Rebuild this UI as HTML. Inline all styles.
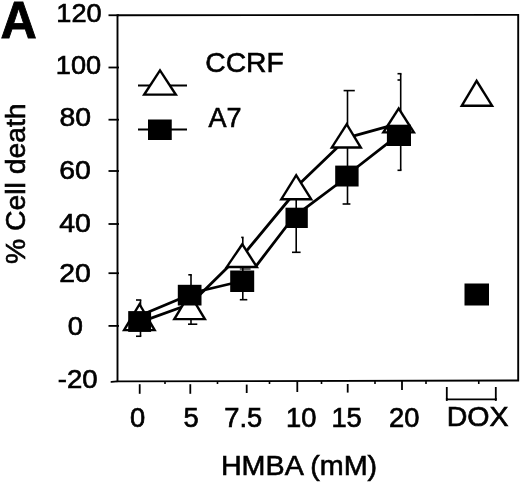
<!DOCTYPE html>
<html><head><meta charset="utf-8"><title>Figure A</title>
<style>html,body{margin:0;padding:0;background:#fff;}svg{display:block;}</style>
</head><body>
<svg width="520" height="483" viewBox="0 0 520 483" font-family="'Liberation Sans', sans-serif" fill="#000">
<polygon points="117.5,15.2 518.2,14.9 518.2,380.5 117.5,381.4" fill="none" stroke="#000" stroke-width="1.9" stroke-linejoin="miter"/>
<line x1="108.50" y1="15.25" x2="119.00" y2="15.25" stroke="#000" stroke-width="1.80" stroke-linecap="butt"/>
<line x1="108.50" y1="67.50" x2="119.00" y2="67.50" stroke="#000" stroke-width="1.80" stroke-linecap="butt"/>
<line x1="108.50" y1="119.70" x2="119.00" y2="119.70" stroke="#000" stroke-width="1.80" stroke-linecap="butt"/>
<line x1="108.50" y1="171.00" x2="119.00" y2="171.00" stroke="#000" stroke-width="1.80" stroke-linecap="butt"/>
<line x1="108.50" y1="224.00" x2="119.00" y2="224.00" stroke="#000" stroke-width="1.80" stroke-linecap="butt"/>
<line x1="108.50" y1="273.20" x2="119.00" y2="273.20" stroke="#000" stroke-width="1.80" stroke-linecap="butt"/>
<line x1="108.50" y1="325.90" x2="119.00" y2="325.90" stroke="#000" stroke-width="1.80" stroke-linecap="butt"/>
<line x1="111.50" y1="381.90" x2="117.00" y2="381.40" stroke="#000" stroke-width="1.90" stroke-linecap="round"/>
<line x1="139.70" y1="384.20" x2="139.70" y2="393.80" stroke="#000" stroke-width="1.80" stroke-linecap="butt"/>
<line x1="190.30" y1="384.20" x2="190.30" y2="393.80" stroke="#000" stroke-width="1.80" stroke-linecap="butt"/>
<line x1="246.70" y1="384.60" x2="246.70" y2="393.00" stroke="#000" stroke-width="1.80" stroke-linecap="butt"/>
<line x1="297.30" y1="381.30" x2="297.30" y2="392.00" stroke="#000" stroke-width="1.80" stroke-linecap="butt"/>
<line x1="347.70" y1="384.00" x2="347.70" y2="392.60" stroke="#000" stroke-width="1.80" stroke-linecap="butt"/>
<line x1="402.00" y1="381.00" x2="402.00" y2="390.00" stroke="#000" stroke-width="1.80" stroke-linecap="butt"/>
<line x1="165.00" y1="381.00" x2="165.00" y2="384.00" stroke="#000" stroke-width="1.60" stroke-linecap="butt"/>
<line x1="217.50" y1="381.00" x2="217.50" y2="384.00" stroke="#000" stroke-width="1.60" stroke-linecap="butt"/>
<line x1="269.50" y1="381.00" x2="269.50" y2="384.00" stroke="#000" stroke-width="1.60" stroke-linecap="butt"/>
<line x1="321.50" y1="381.00" x2="321.50" y2="384.00" stroke="#000" stroke-width="1.60" stroke-linecap="butt"/>
<line x1="375.00" y1="381.00" x2="375.00" y2="384.00" stroke="#000" stroke-width="1.60" stroke-linecap="butt"/>
<line x1="426.00" y1="381.00" x2="426.00" y2="384.00" stroke="#000" stroke-width="1.60" stroke-linecap="butt"/>
<line x1="478.75" y1="381.00" x2="478.75" y2="384.00" stroke="#000" stroke-width="1.60" stroke-linecap="butt"/>
<polyline points="446.8,387 446.8,399.3 495.8,399.3 495.8,387" fill="none" stroke="#000" stroke-width="1.8"/>
<line x1="446.80" y1="398.00" x2="446.80" y2="400.90" stroke="#000" stroke-width="1.80" stroke-linecap="butt"/>
<line x1="495.80" y1="398.00" x2="495.80" y2="400.90" stroke="#000" stroke-width="1.80" stroke-linecap="butt"/>
<line x1="139.50" y1="322.40" x2="189.60" y2="304.20" stroke="#000" stroke-width="2.80" stroke-linecap="round"/>
<line x1="189.60" y1="304.80" x2="242.00" y2="253.20" stroke="#000" stroke-width="2.80" stroke-linecap="round"/>
<line x1="242.40" y1="256.00" x2="296.60" y2="190.50" stroke="#000" stroke-width="2.80" stroke-linecap="round"/>
<line x1="296.20" y1="187.00" x2="346.70" y2="138.50" stroke="#000" stroke-width="2.80" stroke-linecap="round"/>
<line x1="346.70" y1="137.80" x2="399.00" y2="123.30" stroke="#000" stroke-width="2.80" stroke-linecap="round"/>
<line x1="139.50" y1="315.70" x2="189.60" y2="294.80" stroke="#000" stroke-width="2.80" stroke-linecap="round"/>
<line x1="189.60" y1="293.50" x2="242.20" y2="281.00" stroke="#000" stroke-width="2.80" stroke-linecap="round"/>
<line x1="257.00" y1="264.80" x2="296.70" y2="213.00" stroke="#000" stroke-width="2.80" stroke-linecap="round"/>
<line x1="296.70" y1="214.70" x2="347.00" y2="177.00" stroke="#000" stroke-width="2.80" stroke-linecap="round"/>
<line x1="347.00" y1="175.00" x2="398.80" y2="134.60" stroke="#000" stroke-width="2.80" stroke-linecap="round"/>
<line x1="138.00" y1="85.50" x2="187.00" y2="85.50" stroke="#000" stroke-width="1.90" stroke-linecap="butt"/>
<line x1="138.00" y1="129.50" x2="187.00" y2="129.50" stroke="#000" stroke-width="1.90" stroke-linecap="butt"/>
<line x1="140.50" y1="300.00" x2="140.50" y2="336.25" stroke="#000" stroke-width="1.60" stroke-linecap="butt"/><line x1="136.00" y1="300.00" x2="141.30" y2="300.00" stroke="#000" stroke-width="1.60" stroke-linecap="butt"/><line x1="136.00" y1="336.25" x2="141.30" y2="336.25" stroke="#000" stroke-width="1.60" stroke-linecap="butt"/>
<line x1="191.00" y1="274.80" x2="191.00" y2="324.20" stroke="#000" stroke-width="1.60" stroke-linecap="butt"/><line x1="188.30" y1="274.80" x2="191.80" y2="274.80" stroke="#000" stroke-width="1.60" stroke-linecap="butt"/><line x1="188.00" y1="324.20" x2="197.30" y2="324.20" stroke="#000" stroke-width="1.60" stroke-linecap="butt"/>
<line x1="242.80" y1="237.40" x2="242.80" y2="299.70" stroke="#000" stroke-width="1.60" stroke-linecap="butt"/><line x1="241.20" y1="237.40" x2="243.60" y2="237.40" stroke="#000" stroke-width="1.60" stroke-linecap="butt"/><line x1="239.80" y1="299.70" x2="247.30" y2="299.70" stroke="#000" stroke-width="1.60" stroke-linecap="butt"/>
<line x1="239.80" y1="269.00" x2="250.60" y2="269.00" stroke="#000" stroke-width="1.20" stroke-linecap="butt"/>
<line x1="296.20" y1="180.00" x2="296.20" y2="252.30" stroke="#000" stroke-width="1.60" stroke-linecap="butt"/><line x1="292.00" y1="252.30" x2="300.60" y2="252.30" stroke="#000" stroke-width="1.60" stroke-linecap="butt"/>
<line x1="347.50" y1="90.60" x2="347.50" y2="204.00" stroke="#000" stroke-width="1.60" stroke-linecap="butt"/><line x1="343.60" y1="90.60" x2="354.80" y2="90.60" stroke="#000" stroke-width="1.60" stroke-linecap="butt"/><line x1="342.60" y1="204.00" x2="350.40" y2="204.00" stroke="#000" stroke-width="1.60" stroke-linecap="butt"/>
<line x1="400.70" y1="73.70" x2="400.70" y2="170.30" stroke="#000" stroke-width="1.60" stroke-linecap="butt"/><line x1="397.50" y1="73.70" x2="401.50" y2="73.70" stroke="#000" stroke-width="1.60" stroke-linecap="butt"/><line x1="397.50" y1="170.30" x2="401.50" y2="170.30" stroke="#000" stroke-width="1.60" stroke-linecap="butt"/>
<line x1="397.50" y1="80.00" x2="400.70" y2="80.00" stroke="#000" stroke-width="1.60" stroke-linecap="butt"/>
<polygon points="139.50,301.91 121.97,331.30 156.78,331.30" fill="#000"/><polygon points="139.50,306.62 126.18,328.90 152.57,328.90" fill="#fff"/>
<polygon points="189.60,291.42 172.17,320.30 207.03,320.30" fill="#000"/><polygon points="189.60,296.06 176.42,317.90 202.78,317.90" fill="#fff"/>
<polygon points="242.30,242.06 224.54,268.20 259.06,268.20" fill="#000"/><polygon points="242.30,246.41 229.00,265.80 254.60,265.80" fill="#fff"/>
<polygon points="296.20,172.93 279.16,200.40 313.34,200.40" fill="#000"/><polygon points="296.20,177.48 283.48,198.00 309.02,198.00" fill="#fff"/>
<polygon points="346.70,122.03 329.66,148.70 362.94,148.70" fill="#000"/><polygon points="346.70,126.57 333.99,146.30 358.61,146.30" fill="#fff"/>
<polygon points="398.70,106.24 381.15,133.60 416.05,133.60" fill="#000"/><polygon points="398.70,110.71 385.53,131.20 411.67,131.20" fill="#fff"/>
<polygon points="476.60,78.62 459.66,106.90 494.24,106.90" fill="#000"/><polygon points="476.60,83.23 463.95,104.50 489.95,104.50" fill="#fff"/>
<polygon points="160.00,68.20 141.95,95.80 178.05,95.80" fill="#000"/><polygon points="160.00,72.59 146.38,93.40 173.62,93.40" fill="#fff"/>
<rect x="128.20" y="311.10" width="22.90" height="20.80" fill="#000"/>
<rect x="177.80" y="284.80" width="23.70" height="20.70" fill="#000"/>
<rect x="230.20" y="270.50" width="24.00" height="21.50" fill="#000"/>
<rect x="285.50" y="207.70" width="22.30" height="20.30" fill="#000"/>
<rect x="335.20" y="165.60" width="23.40" height="20.90" fill="#000"/>
<rect x="386.90" y="124.70" width="24.10" height="21.30" fill="#000"/>
<rect x="464.50" y="283.50" width="24.50" height="22.00" fill="#000"/>
<rect x="148.00" y="119.50" width="23.75" height="20.50" fill="#000"/>
<text transform="translate(0.50,38.00) scale(0.985,1)" font-size="51.00" text-anchor="start" font-weight="bold" stroke="#000" stroke-width="0.90" >A</text>
<text transform="translate(79.00,22.30) scale(1.025,1)" font-size="26.50" text-anchor="middle" font-weight="normal" stroke="#000" stroke-width="0.65" >120</text>
<text transform="translate(78.50,73.80) scale(1.025,1)" font-size="26.50" text-anchor="middle" font-weight="normal" stroke="#000" stroke-width="0.65" >100</text>
<text transform="translate(75.30,126.40) scale(1.070,1)" font-size="26.50" text-anchor="middle" font-weight="normal" stroke="#000" stroke-width="0.65" >80</text>
<text transform="translate(75.00,178.60) scale(1.070,1)" font-size="26.50" text-anchor="middle" font-weight="normal" stroke="#000" stroke-width="0.65" >60</text>
<text transform="translate(75.00,231.50) scale(1.070,1)" font-size="26.50" text-anchor="middle" font-weight="normal" stroke="#000" stroke-width="0.65" >40</text>
<text transform="translate(75.00,281.60) scale(1.070,1)" font-size="26.50" text-anchor="middle" font-weight="normal" stroke="#000" stroke-width="0.65" >20</text>
<text transform="translate(75.30,335.00) scale(1.030,1)" font-size="26.50" text-anchor="middle" font-weight="normal" stroke="#000" stroke-width="0.65" >0</text>
<text transform="translate(77.75,387.80) scale(1.040,1)" font-size="26.50" text-anchor="middle" font-weight="normal" stroke="#000" stroke-width="0.65" >-20</text>
<text transform="translate(137.60,427.30) scale(0.975,1)" font-size="28.00" text-anchor="middle" font-weight="normal" stroke="#000" stroke-width="0.70" >0</text>
<text transform="translate(191.00,427.30) scale(0.975,1)" font-size="28.00" text-anchor="middle" font-weight="normal" stroke="#000" stroke-width="0.70" >5</text>
<text transform="translate(243.20,427.30) scale(0.975,1)" font-size="28.00" text-anchor="middle" font-weight="normal" stroke="#000" stroke-width="0.70" >7.5</text>
<text transform="translate(301.20,427.30) scale(0.975,1)" font-size="28.00" text-anchor="middle" font-weight="normal" stroke="#000" stroke-width="0.70" >10</text>
<text transform="translate(346.60,427.30) scale(0.975,1)" font-size="28.00" text-anchor="middle" font-weight="normal" stroke="#000" stroke-width="0.70" >15</text>
<text transform="translate(404.20,427.30) scale(0.975,1)" font-size="28.00" text-anchor="middle" font-weight="normal" stroke="#000" stroke-width="0.70" >20</text>
<text transform="translate(477.60,426.30) scale(1.020,1)" font-size="28.00" text-anchor="middle" font-weight="normal" stroke="#000" stroke-width="0.65" >DOX</text>
<text transform="translate(299.00,474.50) scale(1.025,1)" font-size="28.00" text-anchor="middle" font-weight="normal" stroke="#000" stroke-width="0.60" >HMBA (mM)</text>
<text transform="translate(205.30,72.00) scale(1.010,1)" font-size="28.00" text-anchor="start" font-weight="normal" stroke="#000" stroke-width="0.60" >CCRF</text>
<text transform="translate(208.50,127.20) scale(1.000,1)" font-size="27.00" text-anchor="start" font-weight="normal" stroke="#000" stroke-width="0.60" >A7</text>
<g transform="translate(25.3,183.7) rotate(-90)"><text transform="translate(0.00,0.00) scale(1.050,1)" font-size="27.00" text-anchor="middle" font-weight="normal" stroke="#000" stroke-width="0.60" >% Cell death</text></g>
</svg>
</body></html>
